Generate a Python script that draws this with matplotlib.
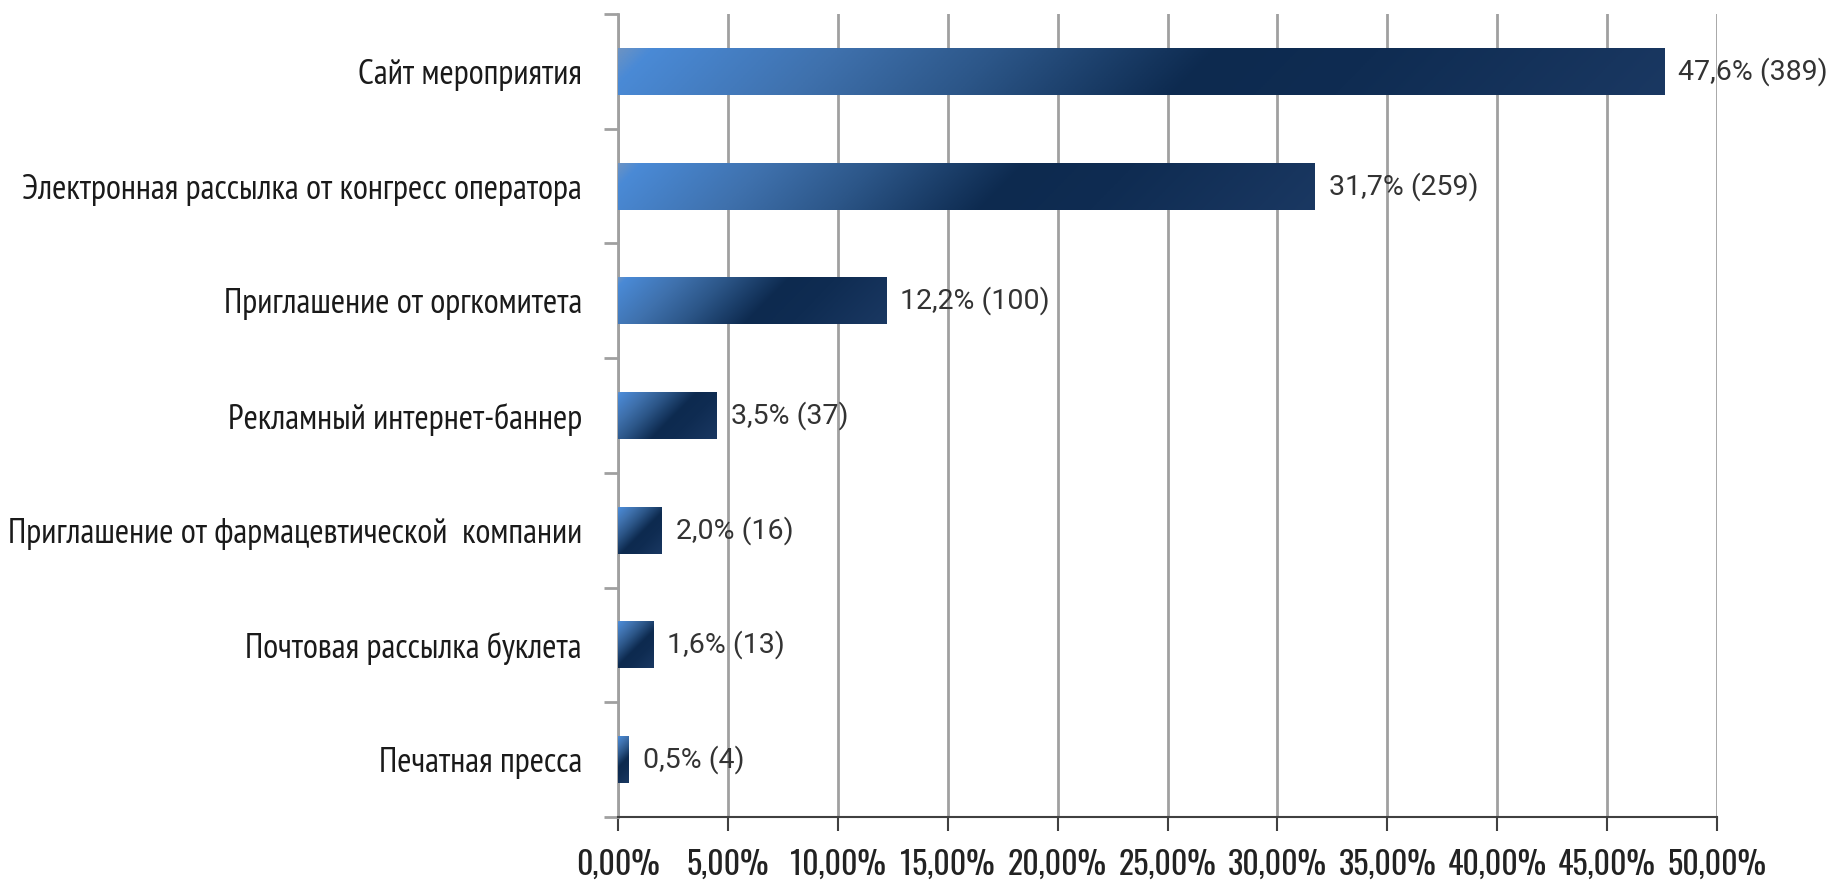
import numpy as np
import matplotlib.pyplot as plt
from matplotlib.colors import LinearSegmentedColormap
from matplotlib.patches import Rectangle

# Данные
categories = [
    'Сайт мероприятия',
    'Электронная рассылка от конгресс оператора',
    'Приглашение от оргкомитета',
    'Рекламный интернет-баннер',
    'Приглашение от фармацевтической  компании',
    'Почтовая рассылка буклета',
    'Печатная пресса',
]
shares = [47.6, 31.7, 12.2, 4.5, 2.0, 1.6, 0.5]
counts = [389, 259, 100, 37, 16, 13, 4]
shown_shares = ['47,6%', '31,7%', '12,2%', '3,5%', '2,0%', '1,6%', '0,5%']
xticks = [0, 5, 10, 15, 20, 25, 30, 35, 40, 45, 50]

cond = ['PT Sans Narrow', 'Roboto Condensed', 'DejaVu Sans']

# градиент как в Excel: светло-синий -> тёмно-синий
grad = LinearSegmentedColormap.from_list('bar', [
    (0.0, '#6b93c4'), (0.03, '#4a8ad6'), (0.2, '#3f71ad'),
    (0.35, '#2c5688'), (0.55, '#0d2a4f'), (0.7, '#0f2c52'), (1.0, '#1a3862')])

fig = plt.figure(figsize=(18.34, 8.8), dpi=100)
ax = fig.add_axes([0.337, 0.0716, 0.5992, 0.9124])
ax.set_xlim(0, 50)
ax.set_ylim(len(categories) - 0.5, -0.5)

# пиксели на единицу данных, чтобы градиент шёл под 45° в пикселях
p0 = ax.transData.transform((0, 0))
p1 = ax.transData.transform((1, 1))
px_x, px_y = abs(p1[0] - p0[0]), abs(p1[1] - p0[1])

bar_h = 0.41
u = np.linspace(0, 1, 500)[None, :]
v = np.linspace(0, 1, 120)[:, None]

for i, val in enumerate(shares):
    W, H = val * px_x, bar_h * px_y
    t = (u * W + v * H) / (W + H)
    rect = Rectangle((0, i - bar_h / 2), val, bar_h, facecolor='none', edgecolor='none')
    ax.add_patch(rect)
    im = ax.imshow(t, cmap=grad, vmin=0, vmax=1, aspect='auto', origin='lower',
                   extent=(0, val, i - bar_h / 2, i + bar_h / 2), zorder=3,
                   interpolation='bilinear')
    im.set_clip_path(rect)
    ax.annotate(f'{shown_shares[i]} ({counts[i]})', (val, i), xytext=(10, 0),
                textcoords='offset points', va='center', ha='left',
                fontsize=20.5, color='#333333', family=['Roboto', 'DejaVu Sans'], zorder=4)

ax.set_xlim(0, 50)
ax.set_ylim(len(categories) - 0.5, -0.5)

ax.set_xticks(xticks)
ax.set_xticklabels([f'{x},00%' for x in xticks], fontsize=23,
                   family=['Oswald', 'DejaVu Sans'], color='#222222')
ax.tick_params(axis='x', length=10, width=1.5, color='#404040', pad=13)

ax.set_yticks(range(len(categories)))
ax.set_yticklabels(categories, fontsize=24.8, family=cond, color='#1a1a1a')
ax.tick_params(axis='y', length=0, pad=26)
ax.set_yticks(np.arange(-0.5, len(categories), 1), minor=True)
ax.tick_params(axis='y', which='minor', length=10, width=2, color='#a0a0a0')

ax.grid(axis='x', color='#a0a0a0', linewidth=2, zorder=1)
ax.set_axisbelow(True)
for s in ['top', 'right']:
    ax.spines[s].set_visible(False)
ax.spines['left'].set_color('#a0a0a0')
ax.spines['left'].set_linewidth(2)
ax.spines['bottom'].set_color('#404040')
ax.spines['bottom'].set_linewidth(1.5)

fig.savefig('out.png', dpi=100)
